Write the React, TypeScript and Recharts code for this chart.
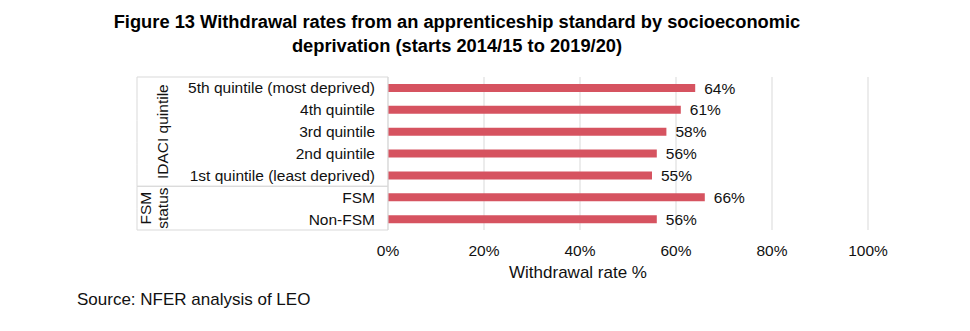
import { BarChart, Bar, XAxis, YAxis, CartesianGrid, LabelList } from 'recharts';

const categories = [
  '5th quintile (most deprived)',
  '4th quintile',
  '3rd quintile',
  '2nd quintile',
  '1st quintile (least deprived)',
  'FSM',
  'Non-FSM',
];
const withdrawalRates = [64, 61, 58, 56, 55, 66, 56];
const groupNames = [['IDACI quintile'], ['FSM', 'status']];
const groupSizes = [5, 2];
const xTicks = [0, 20, 40, 60, 80, 100];

const data = categories.map((name, i) => ({ name, rate: withdrawalRates[i] }));

const FONT = '"Liberation Sans", Arial, Helvetica, sans-serif';
const GRID = '#d9d9d9';
const BAR = '#d65360';
const FS = 15.5;

const W = 970;
const H = 331;
const PLOT_LEFT = 388;
const PLOT_TOP = 77;
const PLOT_RIGHT = 868;
const PLOT_BOTTOM = 230;
const Y_AXIS_W = 240;
const BOX_LEFT = 137;

function CategoryTick(props: any) {
  const { x, y, payload, index } = props;
  const half = payload.offset || (PLOT_BOTTOM - PLOT_TOP) / categories.length / 2;
  const items: any[] = [];
  items.push(
    <text key="t" x={x} y={y} textAnchor="end" dominantBaseline="central" fontSize={FS} fill="#111" fontFamily={FONT}>
      {payload.value}
    </text>
  );

  // group boxes and group labels on the far left
  let start = 0;
  groupSizes.forEach((size, g) => {
    const end = start + size - 1;
    if (index === start) {
      items.push(<line key={'top' + g} x1={BOX_LEFT} x2={PLOT_LEFT} y1={y - half} y2={y - half} stroke={GRID} />);
    }
    if (index === end) {
      items.push(<line key={'bot' + g} x1={BOX_LEFT} x2={PLOT_LEFT} y1={y + half} y2={y + half} stroke={GRID} />);
    }
    if (index >= start && index <= end) {
      items.push(<line key={'l' + g} x1={BOX_LEFT} x2={BOX_LEFT} y1={y - half} y2={y + half} stroke={GRID} />);
    }
    // label centred on the group
    const mid = (start + end) / 2;
    if (index === Math.floor(mid)) {
      const cy = y + (mid - Math.floor(mid)) * half * 2;
      const lines = groupNames[g];
      lines.forEach((ln, k) => {
        const cx = 163 - (lines.length - 1 - k) * 17;
        items.push(
          <text
            key={'g' + g + k}
            x={cx}
            y={cy}
            transform={`rotate(-90 ${cx} ${cy})`}
            textAnchor="middle"
            dominantBaseline="central"
            fontSize={FS}
            fill="#111"
            fontFamily={FONT}
          >
            {ln}
          </text>
        );
      });
    }
    start += size;
  });

  return <g>{items}</g>;
}

export default function App() {
  return (
    <div style={{ position: 'absolute', left: 0, top: 0, width: W, height: H, background: '#fff', fontFamily: FONT }}>
      <div
        style={{
          position: 'absolute',
          left: 0,
          top: 10,
          width: 914,
          textAlign: 'center',
          fontWeight: 'bold',
          fontSize: 18.3,
          lineHeight: '24px',
          color: '#000',
        }}
      >
        Figure 13 Withdrawal rates from an apprenticeship standard by socioeconomic
        <br />
        deprivation (starts 2014/15 to 2019/20)
      </div>
      <BarChart
        width={W}
        height={H}
        data={data}
        layout="vertical"
        margin={{
          top: PLOT_TOP,
          right: W - PLOT_RIGHT,
          bottom: H - PLOT_BOTTOM - 30,
          left: PLOT_LEFT - Y_AXIS_W,
        }}
        barSize={8}
      >
        <CartesianGrid horizontal={false} stroke={GRID} />
        <XAxis
          type="number"
          domain={[0, 100]}
          ticks={xTicks}
          tickFormatter={(v) => `${v}%`}
          axisLine={false}
          tickLine={false}
          tickSize={0}
          tickMargin={15}
          height={30}
          tick={{ fontSize: FS, fill: '#111', fontFamily: FONT }}
          label={{
            value: 'Withdrawal rate %',
            position: 'bottom',
            offset: 6,
            dx: -50,
            fontSize: 17,
            fill: '#111',
            fontFamily: FONT,
          }}
        />
        <YAxis
          type="category"
          dataKey="name"
          width={Y_AXIS_W}
          axisLine={{ stroke: GRID }}
          tickLine={false}
          tickSize={0}
          tickMargin={13}
          interval={0}
          tick={<CategoryTick />}
        />
        <Bar dataKey="rate" fill={BAR} isAnimationActive={false}>
          <LabelList
            dataKey="rate"
            position="right"
            offset={9}
            formatter={(v: any) => `${v}%`}
            style={{ fontSize: FS, fill: '#111', fontFamily: FONT }}
          />
        </Bar>
      </BarChart>
      <div style={{ position: 'absolute', left: 77, top: 290, fontSize: 17, lineHeight: '20px', color: '#111' }}>
        Source: NFER analysis of LEO
      </div>
    </div>
  );
}
